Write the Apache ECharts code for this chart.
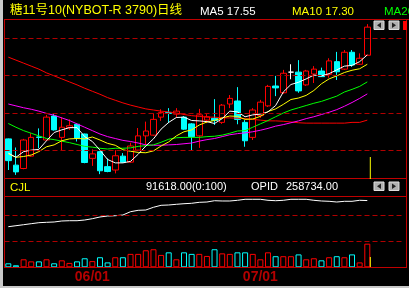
<!DOCTYPE html>
<html><head><meta charset="utf-8">
<script src="https://cdn.jsdelivr.net/npm/echarts@6/dist/echarts.min.js"></script>
<style>html,body{margin:0;padding:0;background:#000;}#c{width:409px;height:288px;}</style>
</head><body><div id="c"></div>
<script>
const dates = ['05/14','05/15','05/18','05/19','05/20','05/21','05/22','05/26','05/27','05/28','05/29',
 '06/01','06/02','06/03','06/04','06/05','06/08','06/09','06/10','06/11','06/12','06/15','06/16','06/17','06/18','06/19',
 '06/22','06/23','06/24','06/25','06/26','06/29','06/30',
 '07/01','07/02','07/06','07/07','07/08','07/09','07/10','07/13','07/14','07/15','07/16','07/17','07/20','07/21','07/22',
 '','','',''];
const dateLabels = ['06/01','07/01'];
const open  = [15.31,14.61,14.52,14.85,15.36,15.28,15.92,15.35,15.61,15.70,15.44,14.79,14.97,14.57,14.48,14.85,14.69,15.01,15.39,15.41,15.89,16.01,15.97,15.89,15.71,15.39,15.81,15.86,15.75,16.24,16.32,15.75,15.35,15.93,16.19,16.72,16.54,17.09,17.09,16.75,17.04,17.12,17.03,17.37,17.17,17.62,17.30,17.54];
const close = [14.73,14.43,15.28,15.35,15.35,15.89,15.55,15.62,15.66,15.33,14.68,14.91,14.46,14.44,14.86,14.69,15.12,15.39,15.52,15.83,16.01,15.99,16.05,15.57,15.37,15.95,15.90,15.80,16.21,16.39,15.83,15.26,16.08,16.29,16.71,16.67,17.06,17.09,16.59,17.12,17.17,16.97,17.39,17.10,17.62,17.28,17.46,18.29];
const low   = [14.48,14.35,14.50,14.83,15.06,15.26,15.53,15.01,15.55,15.24,14.66,14.59,14.37,14.42,14.39,14.67,14.67,14.99,15.15,15.39,15.79,15.73,15.87,15.55,14.99,15.07,15.73,15.68,15.71,16.13,15.70,15.10,15.28,15.87,16.16,16.45,16.51,16.90,16.54,16.72,16.80,16.96,16.94,16.88,17.15,17.23,17.28,17.53];
const high  = [15.32,15.08,15.31,15.46,15.59,15.95,15.97,15.89,15.83,15.73,15.45,15.03,14.98,14.79,15.01,14.93,15.21,15.60,15.77,15.99,16.10,16.13,16.13,15.92,15.73,16.11,15.97,16.37,16.24,16.48,16.69,15.81,16.13,16.35,16.75,16.99,17.15,17.30,17.41,17.15,17.25,17.21,17.46,17.63,17.68,17.68,17.59,18.37];
const ma5   = [14.93,14.82,14.97,15.01,15.03,15.26,15.48,15.55,15.61,15.61,15.37,15.24,15.01,14.76,14.67,14.67,14.71,14.90,15.12,15.31,15.57,15.75,15.88,15.89,15.80,15.79,15.77,15.72,15.85,16.05,16.03,15.90,15.95,15.97,16.03,16.20,16.56,16.76,16.82,16.91,17.01,16.99,17.05,17.15,17.25,17.27,17.37,17.55];
const ma10  = [14.91,14.82,14.84,14.88,14.97,15.10,15.15,15.26,15.31,15.32,15.31,15.36,15.28,15.19,15.14,15.02,14.98,14.95,14.94,14.99,15.12,15.23,15.39,15.50,15.55,15.68,15.76,15.80,15.87,15.92,15.91,15.83,15.84,15.91,16.04,16.11,16.23,16.36,16.40,16.47,16.60,16.78,16.91,16.99,17.08,17.14,17.18,17.30];
const ma20  = [15.72,15.62,15.53,15.46,15.39,15.32,15.29,15.25,15.21,15.16,15.11,15.09,15.06,15.04,15.06,15.06,15.07,15.11,15.13,15.15,15.22,15.30,15.34,15.35,15.35,15.35,15.37,15.38,15.41,15.46,15.52,15.53,15.62,15.71,15.80,15.90,16.00,16.08,16.14,16.20,16.26,16.31,16.38,16.45,16.56,16.63,16.71,16.83];
const maPink = [16.24,16.19,16.14,16.10,16.05,15.99,15.94,15.87,15.80,15.71,15.62,15.53,15.44,15.37,15.32,15.27,15.24,15.20,15.15,15.14,15.14,15.15,15.16,15.18,15.20,15.25,15.29,15.32,15.37,15.42,15.45,15.47,15.50,15.54,15.59,15.65,15.69,15.74,15.79,15.85,15.90,15.96,16.02,16.09,16.18,16.28,16.39,16.51];
const maRed = [17.49,17.41,17.33,17.25,17.17,17.07,16.99,16.91,16.83,16.75,16.66,16.58,16.50,16.41,16.34,16.27,16.21,16.16,16.11,16.08,16.05,16.03,16.00,15.96,15.93,15.91,15.89,15.89,15.87,15.87,15.86,15.85,15.83,15.81,15.79,15.79,15.78,15.76,15.74,15.73,15.73,15.73,15.73,15.73,15.73,15.75,15.75,15.81];
const volume = [15500,7800,31000,23000,23000,31000,15500,27000,17000,23000,35000,24000,39000,19000,39000,39000,52000,52000,66000,70000,48000,58000,31000,58000,52000,52000,44000,70000,54000,52000,58000,58000,52000,31000,58000,43000,43000,43000,50000,31000,35000,27000,39000,43000,39000,50000,19000,91618];
const opid = [157400,161200,165100,169000,172900,174400,175600,179500,180600,180600,183300,188400,195000,198800,200000,202700,215500,220900,222100,232600,240300,241500,244200,246500,248100,251900,253100,258100,257000,257000,259700,263600,263600,263600,259700,258100,259700,263600,263600,263600,259700,257000,255800,253100,255800,255800,259700,258734];
const priceTicks = [15,16,17,18];
const volTicks = [100000,200000];

const UP = '#ff0000', DOWN = '#00ffff', GRID = '#b00000', FRAME = '#c00000';
const FONT = '"Liberation Sans","Noto Sans CJK SC",sans-serif';

const candleData = open.map((o, i) => {
  const v = [o, close[i], low[i], high[i]];
  if (o === close[i]) {
    return { value: v, itemStyle: { color: '#fff', color0: '#fff', borderColor: '#fff', borderColor0: '#fff' } };
  }
  return v;
});
const volData = volume.map((v, i) => ({
  value: v,
  itemStyle: { borderColor: close[i] >= open[i] ? UP : DOWN }
}));

const chart = echarts.init(document.getElementById('c'), null, { width: 409, height: 288 });
const slot = 7.638;
const gridW = slot * dates.length;

function lineSeries(data, color) {
  return { type: 'line', xAxisIndex: 0, yAxisIndex: 0, data: data, symbol: 'none', silent: true,
    lineStyle: { color: color, width: 1 }, z: 4, animation: false };
}

const last = volume.length - 1;
chart.setOption({
  backgroundColor: '#000',
  animation: false,
  grid: [
    { left: 4.5, top: 20, width: gridW, height: 158 },
    { left: 4.5, top: 197, width: gridW, height: 70.3 }
  ],
  xAxis: [
    { type: 'category', data: dates, gridIndex: 0, show: false, boundaryGap: true },
    { type: 'category', data: dates, gridIndex: 1, boundaryGap: true,
      axisLine: { show: false }, axisTick: { show: false }, splitLine: { show: false },
      axisLabel: { interval: (idx, val) => dateLabels.includes(val), color: '#b40000',
        fontSize: 14, fontWeight: 'bold', fontFamily: 'Liberation Sans', margin: 3 } }
  ],
  yAxis: [
    { type: 'value', gridIndex: 0, min: 14.2667, max: 18.48, show: false },
    { type: 'value', gridIndex: 1, min: 0, max: 272500, show: false }
  ],
  series: [
    { type: 'candlestick', xAxisIndex: 0, yAxisIndex: 0, data: candleData, barWidth: 6, z: 3,
      itemStyle: { color: '#000', color0: DOWN, borderColor: UP, borderColor0: DOWN, borderWidth: 1 },
      markLine: { silent: true, symbol: ['none', 'none'], label: { show: false }, animation: false,
        lineStyle: { color: GRID, type: [5, 3], width: 1 },
        data: priceTicks.map(v => ({ yAxis: v })) } },
    lineSeries(maRed, '#ff0000'),
    lineSeries(maPink, '#ff00ff'),
    lineSeries(ma20, '#00ff00'),
    lineSeries(ma10, '#ffff00'),
    lineSeries(ma5, '#ffffff'),
    { type: 'bar', xAxisIndex: 1, yAxisIndex: 1, data: volData, barWidth: 6, z: 3,
      itemStyle: { color: '#000', borderWidth: 1 },
      markLine: { silent: true, symbol: ['none', 'none'], label: { show: false }, animation: false,
        lineStyle: { color: GRID, type: [5, 3], width: 1 },
        data: volTicks.map(v => ({ yAxis: v })) } },
    { type: 'line', xAxisIndex: 1, yAxisIndex: 1, data: opid, symbol: 'none', silent: true,
      lineStyle: { color: '#ffffff', width: 1 }, z: 4 }
  ]
});

const cx = chart.convertToPixel({ xAxisIndex: 0 }, last) + 3;
function hline(x1, x2, y, c) { return { type: 'line', shape: { x1, y1: y, x2, y2: y }, style: { stroke: c, lineWidth: 1 }, z: 100 }; }
function vline(x, y1, y2, c) { return { type: 'line', shape: { x1: x, y1, x2: x, y2 }, style: { stroke: c, lineWidth: 1 }, z: 100 }; }
function txt(t, x, y, c, size) { return { type: 'text', z: 100, style: { text: t, x, y, fill: c, font: (size || 11) + 'px ' + FONT, verticalAlign: 'middle' } }; }
function btn(x, y, dir) {
  const pts = dir < 0 ? [[x + 7, y + 1.5], [x + 3, y + 4.25], [x + 7, y + 7]] : [[x + 3, y + 1.5], [x + 7, y + 4.25], [x + 3, y + 7]];
  return [
    { type: 'rect', z: 100, shape: { x, y, width: 10, height: 8.5 }, style: { fill: '#b0b0b0', stroke: '#e0e0e0', lineWidth: 1 } },
    { type: 'polygon', z: 101, shape: { points: pts }, style: { fill: '#202020' } }
  ];
}

chart.setOption({
  graphic: [
    { type: 'rect', z: 99, shape: { x: 0, y: 0, width: 3, height: 288 }, style: { fill: '#c8c8c8' } },
    { type: 'rect', z: 99, shape: { x: 0, y: 286, width: 409, height: 2 }, style: { fill: '#c8c8c8' } },
    hline(4, 409, 19.5, FRAME),
    hline(4, 407, 178.5, FRAME),
    hline(4, 407, 196.5, FRAME),
    hline(4, 407, 267.5, FRAME),
    vline(4.5, 19.5, 268, FRAME),
    vline(406.5, 19.5, 268, FRAME),
    { type: 'rect', z: 100, shape: { x: 403, y: 21, width: 4, height: 9 }, style: { fill: '#ff0000' } },
    ...btn(374, 21, -1), ...btn(389, 21, 1),
    ...btn(374, 182, -1), ...btn(389, 182, 1),
    vline(cx, 157, 179, '#ffff00'),
    vline(cx, 257, 267, '#ffff00'),
    txt('糖11号10(NYBOT-R 3790)日线', 10, 11, '#ffff00', 12.5),
    txt('MA5 ' + ma5[last].toFixed(2), 200, 11.5, '#ffffff', 11.5),
    txt('MA10 ' + ma10[last].toFixed(2), 292, 11.5, '#ffff00', 11.5),
    txt('MA20 ' + ma20[last].toFixed(2), 384, 11.5, '#00ff00', 11.5),
    txt('CJL', 10, 187.5, '#ffff00', 11.5),
    txt(volume[last].toFixed(2) + '(0:100)', 146, 187, '#ffffff'),
    txt('OPID', 251, 187, '#ffffff'),
    txt(opid[last].toFixed(2), 286, 187, '#ffffff')
  ]
});
</script></body></html>
